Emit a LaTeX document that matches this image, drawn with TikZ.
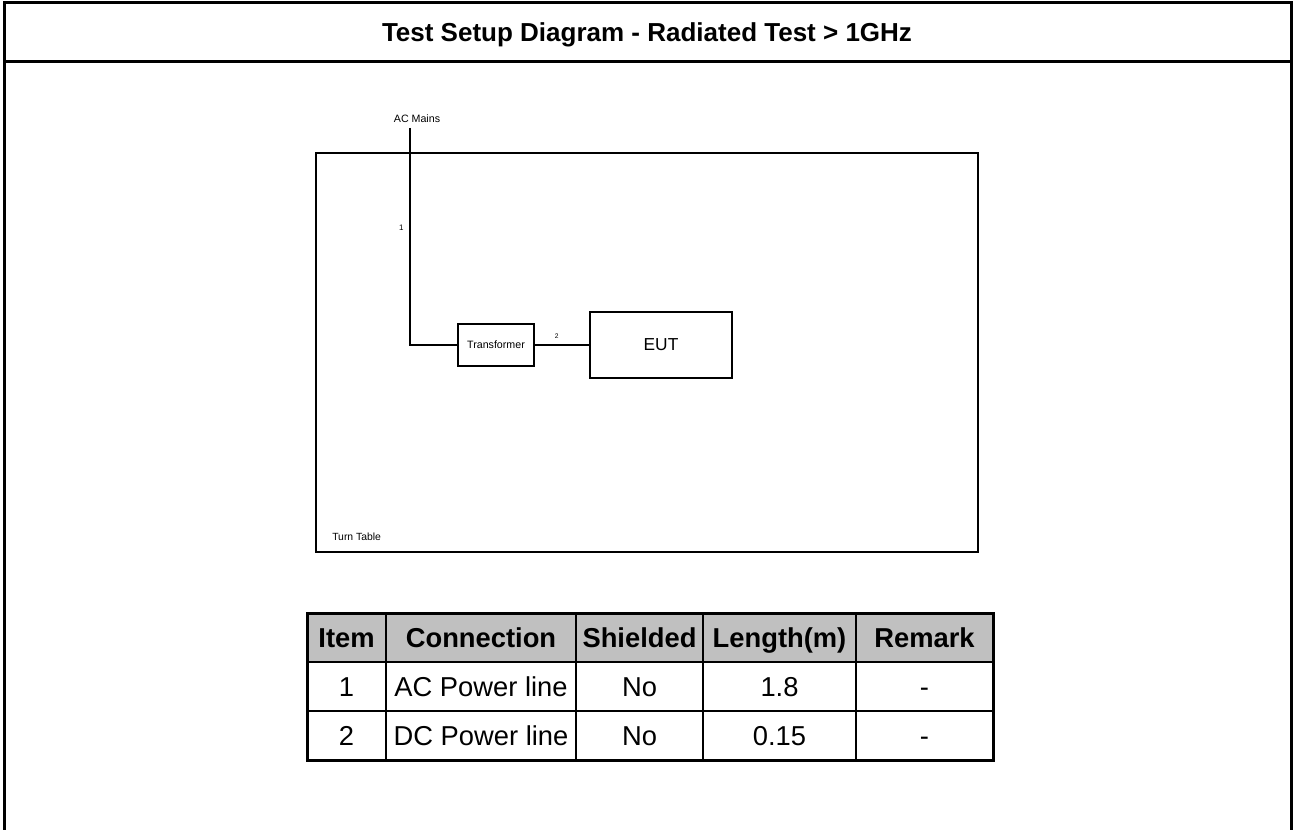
\documentclass[tikz,border=0pt]{standalone}
\usepackage{fontspec}
\setmainfont{Liberation Sans}
\usetikzlibrary{positioning}
\definecolor{headgray}{RGB}{192,192,192}

\begin{document}
\begin{tikzpicture}[x=0.75pt, y=-0.75pt,
  frame/.style={line width=2.25pt},
  box/.style={draw, line width=1.5pt, inner sep=0pt, outer sep=0pt},
  wire/.style={line width=1.5pt},
  lab/.style={font=\fontsize{8}{9}\selectfont, inner sep=0pt},
  cell/.style={draw, line width=1.5pt, inner sep=0pt, outer sep=0pt, minimum height=36.75pt, text height=14.6pt, text depth=0pt, font=\fontsize{20.5}{23}\selectfont},
  head/.style={cell, fill=headgray, font=\fontsize{20.5}{23}\selectfont\bfseries}]
\useasboundingbox (0,0) rectangle (1295,830);
% page frame
\draw[frame] (4,832) -- (4,3) -- (1291,3) -- (1291,832);
\draw[frame] (4,62) -- (1291,62);
\node[font=\fontsize{19.5}{22}\selectfont\bfseries, text height=14pt, text depth=0pt] (title) at (647,32) {Test Setup Diagram - Radiated Test > 1GHz};
% setup
\node[box, minimum width=496.5pt, minimum height=299.25pt] (tt) at (647,352.5) {};
\node[lab, font=\fontsize{7.8}{9}\selectfont, anchor=west] (ttl) at (332,537) {Turn Table};
\coordinate (acin) at (410,128);
\node[lab, anchor=south] (acm) at (417,123) {AC Mains};
\node[box, minimum width=57pt, minimum height=31.5pt, font=\fontsize{8}{9}\selectfont] (tr) at (496,345) {Transformer};
\node[box, minimum width=106.5pt, minimum height=49.5pt, font=\fontsize{13}{15}\selectfont] (eut) at (661,345) {EUT};
\draw[wire] (acin) |- (tr.west) node[lab, font=\fontsize{6}{7}\selectfont, pos=0.23, left=4pt] {1};
\draw[wire] (tr) -- node[lab, font=\fontsize{5}{6}\selectfont, above=4pt, xshift=-4pt] {2} (eut);
% cable table
\node[head, minimum width=59.25pt] (item) at (346.5,637.5) {Item};
\node[head, minimum width=142.5pt] (conn) at (481,637.5) {Connection};
\node[head, minimum width=95.25pt] (shld) at (639.5,637.5) {Shielded};
\node[head, minimum width=114.75pt] (len) at (779.5,637.5) {Length(m)};
\node[head, minimum width=102.75pt] (rmk) at (924.5,637.5) {Remark};
\node[cell, minimum width=59.25pt] (item1) at (346.5,686.5) {1};
\node[cell, minimum width=142.5pt] (conn1) at (481,686.5) {AC Power line};
\node[cell, minimum width=95.25pt] (shld1) at (639.5,686.5) {No};
\node[cell, minimum width=114.75pt] (len1) at (779.5,686.5) {1.8};
\node[cell, minimum width=102.75pt] (rmk1) at (924.5,686.5) {-};
\node[cell, minimum width=59.25pt] (item2) at (346.5,735.5) {2};
\node[cell, minimum width=142.5pt] (conn2) at (481,735.5) {DC Power line};
\node[cell, minimum width=95.25pt] (shld2) at (639.5,735.5) {No};
\node[cell, minimum width=114.75pt] (len2) at (779.5,735.5) {0.15};
\node[cell, minimum width=102.75pt] (rmk2) at (924.5,735.5) {-};
\draw[frame] (item.north west) rectangle (rmk2.south east);
\end{tikzpicture}
\end{document}
